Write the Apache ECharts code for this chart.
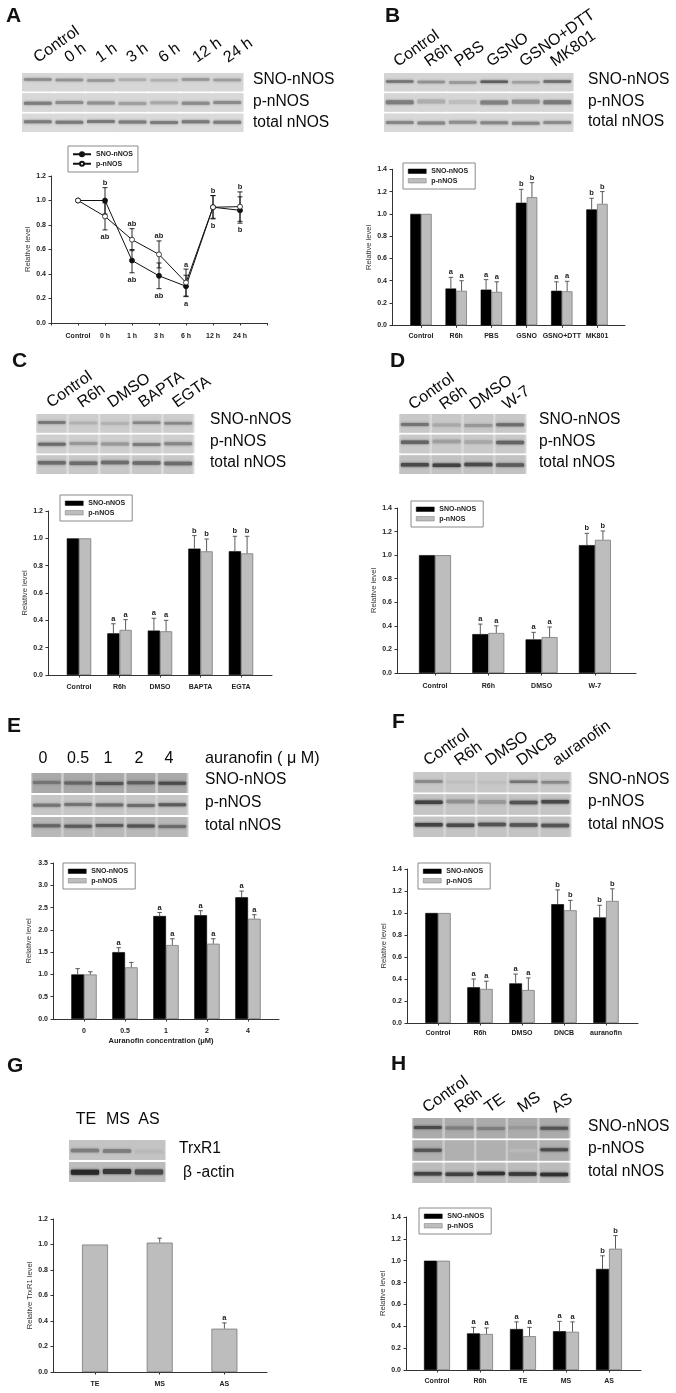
<!DOCTYPE html>
<html><head><meta charset="utf-8">
<style>html,body{margin:0;padding:0;background:#fff}#c{width:676px;height:1393px;filter:blur(0.35px)}</style>
<script src="https://cdn.jsdelivr.net/npm/echarts@6/dist/echarts.min.js"></script>
</head><body><div id="c"></div>
<script>
// ---------- data ----------
const catsA=['Control','0 h','1 h','3 h','6 h','12 h','24 h'];
const snoA=[1,1,0.51,0.385,0.30,0.945,0.92];
const pA=[1,0.87,0.68,0.56,0.33,0.945,0.95];
const snoLoA=[null,0.89,0.41,0.28,0.215,0.855,0.815];
const snoHiA=[null,1.105,0.60,0.49,0.39,1.04,1.03];
const pLoA=[null,0.76,0.59,0.45,0.22,0.85,0.83];
const pHiA=[null,0.98,0.77,0.67,0.44,1.04,1.07];
const letTopA=['','b','ab','ab','a','b','b'];
const letBotA=['','ab','ab','ab','a','b','b'];

const catsB=['Control','R6h','PBS','GSNO','GSNO+DTT','MK801'];
const snoB=[1,0.33,0.32,1.10,0.31,1.04];
const pB=[1,0.31,0.30,1.15,0.305,1.09];
const snoTopB=[null,0.43,0.41,1.22,0.39,1.14];
const pTopB=[null,0.40,0.39,1.28,0.395,1.20];
const letSnoB=['','a','a','b','a','b'];
const letPB=['','a','a','b','a','b'];

const catsC=['Control','R6h','DMSO','BAPTA','EGTA'];
const snoC=[1,0.305,0.325,0.925,0.905];
const pC=[1,0.33,0.32,0.905,0.89];
const snoTopC=[null,0.375,0.415,1.02,1.015];
const pTopC=[null,0.405,0.40,0.995,1.015];
const letSnoC=['','a','a','b','b'];
const letPC=['','a','a','b','b'];

const catsD=['Control','R6h','DMSO','W-7'];
const snoD=[1,0.33,0.285,1.085];
const pD=[1,0.34,0.305,1.13];
const snoTopD=[null,0.415,0.345,1.185];
const pTopD=[null,0.40,0.39,1.205];
const letSnoD=['','a','a','b'];
const letPD=['','a','a','b'];

const catsE=['0','0.5','1','2','4'];
const snoE=[1.0,1.5,2.31,2.33,2.73];
const pE=[1.0,1.16,1.66,1.69,2.25];
const snoTopE=[1.13,1.6,2.39,2.43,2.87];
const pTopE=[1.06,1.27,1.8,1.8,2.34];
const letSnoE=['','a','a','a','a'];
const letPE=['','','a','a','a'];

const catsF=['Control','R6h','DMSO','DNCB','auranofin'];
const snoF=[1,0.325,0.36,1.08,0.96];
const pF=[1,0.31,0.30,1.025,1.11];
const snoTopF=[null,0.40,0.445,1.21,1.07];
const pTopF=[null,0.38,0.41,1.115,1.22];
const letSnoF=['','a','a','b','b'];
const letPF=['','a','a','b','b'];

const catsG=['TE','MS','AS'];
const trxG=[1,1.015,0.34];
const trxTopG=[null,1.05,0.385];
const letTrxG=['','','a'];

const catsH=['Control','R6h','TE','MS','AS'];
const snoH=[1,0.335,0.375,0.355,0.925];
const pH=[1,0.33,0.31,0.35,1.11];
const snoTopH=[null,0.39,0.44,0.445,1.045];
const pTopH=[null,0.385,0.39,0.44,1.23];
const letSnoH=['','a','a','a','b'];
const letPH=['','a','a','a','b'];

// blot band strengths, one list per row
const blotA=[[.42,.38,.35,.22,.2,.35,.32],[.5,.4,.38,.3,.25,.42,.42],[.5,.52,.52,.5,.5,.52,.5]];
const blotB=[[.55,.38,.35,.68,.3,.6],[.5,.22,.12,.48,.38,.52],[.45,.45,.4,.45,.45,.42]];
const blotC=[[.55,.2,.2,.45,.45],[.6,.35,.35,.5,.45],[.6,.6,.6,.6,.6]];
const blotD=[[.55,.25,.35,.6],[.65,.3,.25,.65],[.8,.85,.8,.7]];
const blotE=[[.55,.65,.75,.7,.8],[.55,.55,.6,.6,.7],[.65,.7,.7,.75,.6]];
const blotF=[[.45,.12,.12,.55,.45],[.85,.4,.35,.75,.8],[.85,.8,.75,.75,.75]];
const blotG=[[.5,.5,.15],[1,.9,.8]];
const blotH=[[.8,.5,.5,.35,.75],[.75,.2,.2,.15,.8],[.85,.85,.95,.9,.95]];
const rowNames=['SNO-nNOS','p-nNOS','total nNOS'];

// ---------- layout / style ----------
const FF='"Liberation Sans",Arial,sans-serif';
const INK='#222';
const grids=[],xAxes=[],yAxes=[],series=[],legends=[],gfx=[];

function text(s,x,y,size,o){o=o||{};gfx.push({type:'text',x:x,y:y,rotation:o.rot||0,z:20,style:{text:s,fontFamily:o.ff||FF,fontSize:size,fontWeight:o.w||'normal',fill:o.c||'#111',align:o.a||'left',verticalAlign:o.v||'middle'}});}
function addGrid(l,t,w,h,x,y){grids.push({left:l,top:t,width:w,height:h});const i=grids.length-1;xAxes.push(Object.assign({gridIndex:i},x));yAxes.push(Object.assign({gridIndex:i},y));return i;}
const axisLbl=m=>({show:true,interval:0,margin:m,fontFamily:FF,fontSize:7,fontWeight:'bold',color:INK,hideOverlap:false});
const axLine={show:true,onZero:false,lineStyle:{color:'#333',width:1}};
const tick={show:true,length:2.5,lineStyle:{color:'#333',width:1}};

function yAxisFull(max,step,name,gap){return {type:'value',min:0,max:max,interval:step,axisLine:axLine,axisTick:tick,splitLine:{show:false},
 axisLabel:{fontFamily:FF,fontSize:7,fontWeight:'bold',color:INK,margin:5,formatter:v=>(+v).toFixed(1)},
 name:name,nameLocation:'middle',nameGap:gap,nameTextStyle:{fontFamily:FF,fontSize:7.6,color:'#333',fontWeight:'normal'}};}

function whisker(g,items,dx,cap,col,lw,both){
 series.push({type:'custom',xAxisIndex:g,yAxisIndex:g,z:5,silent:true,clip:false,data:items.map(it=>[it.i,it.hi]),encode:{x:0,y:1},
  renderItem:(p,api)=>{const it=items[p.dataIndex];const a=api.coord([it.i,it.lo]),b=api.coord([it.i,it.hi]);const x=a[0]+dx;
   const L=(x1,y1,x2,y2)=>({type:'line',shape:{x1,y1,x2,y2},style:{stroke:col,lineWidth:lw}});
   const ch=[L(x,a[1],x,b[1]),L(x-cap/2,b[1],x+cap/2,b[1])];
   if(both)ch.push(L(x-cap/2,a[1],x+cap/2,a[1]));
   return {type:'group',children:ch};}});
}
function letters(g,items,dx,gap,below){
 series.push({type:'custom',xAxisIndex:g,yAxisIndex:g,z:6,silent:true,clip:false,data:items.map(it=>[it.i,it.y]),encode:{x:0,y:1},
  renderItem:(p,api)=>{const it=items[p.dataIndex];const a=api.coord([it.i,it.y]);
   return {type:'text',style:{text:it.t,x:a[0]+dx,y:a[1]+(below?gap:-gap),align:'center',verticalAlign:below?'top':'bottom',fontFamily:FF,fontSize:7.5,fontWeight:'bold',fill:INK}};}});
}

function blot(b,data){
 const g=addGrid(b.x0,b.y0,b.x1-b.x0,b.y1-b.y0,
  {type:'category',show:false,data:data[0].map((_,i)=>i)},
  {type:'category',show:false,inverse:true,data:data.map((_,i)=>i)});
 const cells=[];data.forEach((r,j)=>r.forEach((v,i)=>cells.push([i,j,v])));
 series.push({type:'custom',xAxisIndex:g,yAxisIndex:g,silent:true,data:cells,encode:{x:0,y:1},
  renderItem:(p,api)=>{const i=api.value(0),j=api.value(1),v=api.value(2);const c=api.coord([i,j]),s=api.size([1,1]);
   const left=c[0]-s[0]/2,top=c[1]-s[1]/2;const lv=Math.round(210-v*170);const col='rgb('+lv+','+lv+','+lv+')';
   const h=b.bandH[j]||3;const by=top+b.frac[j]*s[1]-h/2;
   const tilt=((i*7+j*3)%5-2)*0.25;
   return {type:'group',children:[
    {type:'rect',shape:{x:left,y:top+1,width:s[0]+0.5,height:s[1]-2},style:{fill:b.gap?b.gap[j]:b.bg[j]}},
    {type:'rect',shape:{x:left+s[0]*0.04,y:top+1,width:s[0]*0.92,height:s[1]-2},style:{fill:b.bg[j]}},
    {type:'rect',shape:{x:left+s[0]*0.06,y:by+tilt,width:s[0]*0.88,height:h,r:1.2},style:{fill:col,shadowBlur:2.5,shadowColor:col}}
   ]};}});
}

function laneLabels(names,starts,y){const a=35*Math.PI/180;names.forEach((s,i)=>text(s,starts[i]+8,y+4,16,{rot:a,v:'bottom',c:'#0a0a0a'}));}
function rowLabels(names,x,ys){names.forEach((s,i)=>text(s,x,ys[i],15.6,{c:'#0a0a0a'}));}
function panelLetter(s,x,base){text(s,x,base+4.5,21,{w:'bold',v:'bottom',c:'#111'});}

function barPanel(tag,L,cats,sets){
 const n=cats.length;
 // frame: y axis and the long base line
 addGrid(L.ax,L.top,L.end-L.ax,L.bot-L.top,
  {type:'value',min:0,max:1,axisLine:axLine,axisTick:{show:false},axisLabel:{show:false},splitLine:{show:false}},
  yAxisFull(L.max,L.step,L.name||'Relative level',L.nameGap));
 // categories
 const g=addGrid(L.c0-L.sp/2,L.top,L.sp*n,L.bot-L.top,
  Object.assign({type:'category',data:cats,axisLine:{show:false},axisTick:Object.assign({alignWithLabel:true},tick),axisLabel:axisLbl(L.m),splitLine:{show:false}},L.xname||{}),
  {type:'value',show:false,min:0,max:L.max,interval:L.step,splitLine:{show:false}});
 const styles=[{color:'#000',borderColor:'#000',borderWidth:0.6},{color:'#bdbdbd',borderColor:'#7a7a7a',borderWidth:0.8}];
 const use=sets.length===1?[styles[1]]:styles;
 sets.forEach((s,k)=>{
  series.push({type:'bar',name:s.name+' '+tag,xAxisIndex:g,yAxisIndex:g,data:s.vals,barWidth:L.bw,barGap:'0%',itemStyle:use[k],z:3,silent:true,animation:false});
  const dx=sets.length===1?0:(k===0?-L.bw/2:L.bw/2);
  const items=[],lets=[];
  s.tops.forEach((t,i)=>{if(t!=null)items.push({i,lo:s.vals[i],hi:t});if(s.lets[i])lets.push({i,y:t,t:s.lets[i]});});
  whisker(g,items,dx,4.5,'#4a4a4a',0.9,false);
  letters(g,lets,dx,1,false);
 });
 if(L.leg)legends.push({data:sets.map(s=>s.name+' '+tag),formatter:nm=>nm.split(' ')[0],orient:'vertical',left:L.leg[0],top:L.leg[1],
  selectedMode:false,icon:'rect',itemWidth:18,itemHeight:4.5,itemGap:1,padding:[4,7,4,5],borderColor:'#8a8a8a',borderWidth:1,backgroundColor:'#fff',z:10,
  itemStyle:{borderWidth:0.5},textStyle:{fontFamily:FF,fontSize:7,fontWeight:'bold',color:INK,lineHeight:8.5}});
}

// ---- A ----
panelLetter('A',6,22);
laneLabels(catsA,[32,63,94,125,157,191,222],62);
blot({x0:22,x1:243,y0:72,y1:133,bg:['#d6d6d6','#d8d8d8','#dadada'],frac:[.39,.53,.46],bandH:[2.5,3,3.2]},blotA);
rowLabels(rowNames,253,[80,102,123]);
(function(){
 const g=addGrid(51,176,216,147,
  {type:'category',boundaryGap:false,data:[''].concat(catsA,['']),axisLine:axLine,axisTick:Object.assign({alignWithLabel:true},tick),axisLabel:axisLbl(10),splitLine:{show:false}},
  yAxisFull(1.2,0.2,'Relative level',18));
 const pad=a=>[null].concat(a,[null]);
 const ls=(fill)=>({type:'line',xAxisIndex:g,yAxisIndex:g,symbol:'circle',symbolSize:5,z:8,silent:true,connectNulls:false,animation:false,lineStyle:{color:'#111',width:1},itemStyle:{color:fill,borderColor:'#111',borderWidth:0.8}});
 const err=(lo,hi)=>lo.map((v,i)=>v==null?null:{i:i+1,lo:v,hi:hi[i]}).filter(Boolean);
 whisker(g,err(snoLoA,snoHiA),0,5,'#111',0.9,true);
 whisker(g,err(pLoA,pHiA),0,5,'#111',0.9,true);
 series.push(Object.assign(ls('#111'),{name:'SNO-nNOS A',data:pad(snoA)}));
 series.push(Object.assign(ls('#fff'),{name:'p-nNOS A',data:pad(pA)}));
 const tops=[],bots=[];
 catsA.forEach((c,i)=>{if(letTopA[i])tops.push({i:i+1,y:Math.max(snoHiA[i],pHiA[i]),t:letTopA[i]});if(letBotA[i])bots.push({i:i+1,y:Math.min(snoLoA[i],pLoA[i]),t:letBotA[i]});});
 letters(g,tops,0,0.5,false);letters(g,bots,0,3,true);
 legends.push({data:['SNO-nNOS A','p-nNOS A'],formatter:nm=>nm.split(' ')[0],orient:'vertical',left:68,top:146,selectedMode:false,itemWidth:18,itemHeight:5,itemGap:1,padding:[4,5,4,4],borderColor:'#8a8a8a',borderWidth:1,backgroundColor:'#fff',z:10,
  textStyle:{fontFamily:FF,fontSize:7,fontWeight:'bold',color:INK,lineHeight:8.5}});
})();

// ---- B ----
panelLetter('B',385,22);
laneLabels(catsB,[392,423,453,485,518,549],66);
blot({x0:384,x1:573,y0:72,y1:133,bg:['#d4d4d4','#d6d6d6','#d8d8d8'],frac:[.49,.48,.5],bandH:[2.5,4,3]},blotB);
rowLabels(rowNames,588,[80,102,122]);
barPanel('B',{ax:392,end:625,top:169.3,bot:325.3,max:1.4,step:0.2,c0:421,sp:35.2,bw:10.7,m:7,nameGap:19,leg:[403,163]},catsB,
 [{name:'SNO-nNOS',vals:snoB,tops:snoTopB,lets:letSnoB},{name:'p-nNOS',vals:pB,tops:pTopB,lets:letPB}]);

// ---- C ----
panelLetter('C',12,367);
laneLabels(catsC,[45,76,106,137,171],407);
blot({x0:36,x1:194,y0:413,y1:475,bg:['#cdcdcd','#cfcfcf','#c8c8c8'],gap:['#dcdcdc','#dcdcdc','#dcdcdc'],frac:[.48,.5,.42],bandH:[2.5,3,3.5]},blotC);
rowLabels(rowNames,210,[420,442,463]);
barPanel('C',{ax:48,end:272,top:511,bot:675,max:1.2,step:0.2,c0:79,sp:40.5,bw:12.2,m:9,nameGap:19,leg:[60,495]},catsC,
 [{name:'SNO-nNOS',vals:snoC,tops:snoTopC,lets:letSnoC},{name:'p-nNOS',vals:pC,tops:pTopC,lets:letPC}]);

// ---- D ----
panelLetter('D',390,367);
laneLabels(catsD,[407,438,468,501],409);
blot({x0:399,x1:526,y0:413,y1:475,bg:['#c8c8c8','#cacaca','#c2c2c2'],gap:['#d8d8d8','#d8d8d8','#d0d0d0'],frac:[.58,.4,.52],bandH:[3,3.5,3.5]},blotD);
rowLabels(rowNames,539,[420,442,463]);
barPanel('D',{ax:397,end:636,top:508,bot:673,max:1.4,step:0.2,c0:435,sp:53.3,bw:16,m:10,nameGap:19,leg:[411,501]},catsD,
 [{name:'SNO-nNOS',vals:snoD,tops:snoTopD,lets:letSnoD},{name:'p-nNOS',vals:pD,tops:pTopD,lets:letPD}]);

// ---- E ----
panelLetter('E',7,732);
catsE.forEach((s,i)=>text(s,[43,78,108,139,169][i],759,16,{a:'center',c:'#0a0a0a'}));
text('auranofin ( μ M)',205,759,16.2,{c:'#0a0a0a'});
blot({x0:31,x1:188,y0:772,y1:838,bg:['#a9a9a9','#c6c6c6','#b8b8b8'],gap:['#cfcfcf','#d4d4d4','#cccccc'],frac:[.5,.5,.45],bandH:[3,3,3]},blotE);
rowLabels(rowNames,205,[780,803,826]);
barPanel('E',{ax:53,end:279,top:863,bot:1019,max:3.5,step:0.5,c0:84,sp:41,bw:12.7,m:9,nameGap:20,leg:[63,863],
 xname:{name:'Auranofin concentration (μM)',nameLocation:'middle',nameGap:18,nameTextStyle:{fontFamily:FF,fontSize:7.5,fontWeight:'bold',color:INK,padding:[0,10,0,0]}}},catsE,
 [{name:'SNO-nNOS',vals:snoE,tops:snoTopE,lets:letSnoE},{name:'p-nNOS',vals:pE,tops:pTopE,lets:letPE}]);

// ---- F ----
panelLetter('F',392,728);
laneLabels(catsF,[422,453,484,515,551],765);
blot({x0:413,x1:571,y0:771,y1:838,bg:['#c8c8c8','#c4c4c4','#c4c4c4'],gap:['#d4d4d4','#d4d4d4','#d4d4d4'],frac:[.49,.39,.42],bandH:[2.5,3.5,3.5]},blotF);
rowLabels(rowNames,588,[780,802,825]);
barPanel('F',{ax:407,end:638,top:869,bot:1023,max:1.4,step:0.2,c0:438,sp:42,bw:12.7,m:7,nameGap:19,leg:[418,863]},catsF,
 [{name:'SNO-nNOS',vals:snoF,tops:snoTopF,lets:letSnoF},{name:'p-nNOS',vals:pF,tops:pTopF,lets:letPF}]);

// ---- G ----
panelLetter('G',7,1072);
catsG.forEach((s,i)=>text(s,[86,118,149][i],1120,16,{a:'center',c:'#0a0a0a'}));
blot({x0:69,x1:165,y0:1139,y1:1183,bg:['#c4c4c4','#bcbcbc'],frac:[.55,.5],bandH:[3.5,5]},blotG);
text('TrxR1',179,1149,15.6,{c:'#0a0a0a'});text('β -actin',183,1173,15.6,{c:'#0a0a0a'});
barPanel('G',{ax:53,end:267,top:1219,bot:1372,max:1.2,step:0.2,c0:95,sp:64.7,bw:26,m:9,nameGap:15,name:'Relative TrxR1 level'},catsG,
 [{name:'TrxR1',vals:trxG,tops:trxTopG,lets:letTrxG}]);

// ---- H ----
panelLetter('H',391,1070);
laneLabels(catsH,[421,453,483,516,550],1112);
blot({x0:412,x1:570,y0:1117,y1:1184,bg:['#ababab','#b0b0b0','#bcbcbc'],gap:['#cacaca','#cacaca','#d0d0d0'],frac:[.49,.48,.55],bandH:[3,3,3.5]},blotH);
rowLabels(rowNames,588,[1127,1149,1172]);
barPanel('H',{ax:406,end:641,top:1217,bot:1370,max:1.4,step:0.2,c0:437,sp:43,bw:13,m:8,nameGap:19,leg:[419,1208]},catsH,
 [{name:'SNO-nNOS',vals:snoH,tops:snoTopH,lets:letSnoH},{name:'p-nNOS',vals:pH,tops:pTopH,lets:letPH}]);

const chart=echarts.init(document.getElementById('c'),null,{renderer:'canvas',devicePixelRatio:1});
chart.setOption({animation:false,backgroundColor:'#fff',tooltip:{show:false},grid:grids,xAxis:xAxes,yAxis:yAxes,series:series,legend:legends,graphic:{elements:gfx}});
</script></body></html>
